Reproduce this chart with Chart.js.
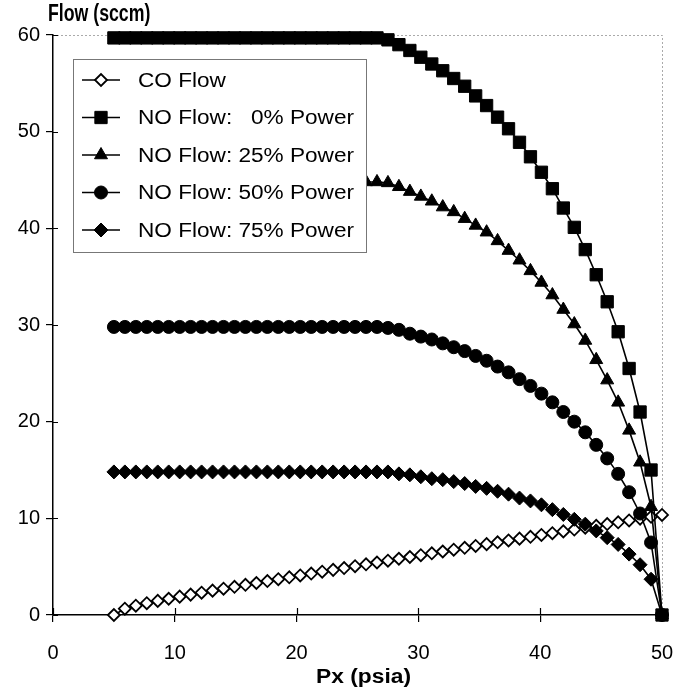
<!DOCTYPE html>
<html>
<head>
<meta charset="utf-8">
<script src="https://cdn.jsdelivr.net/npm/chart.js@4.4.1/dist/chart.umd.min.js"></script>
<style>
  html, body { margin: 0; padding: 0; background: #fff; }
  #chart { display: block; }
</style>
</head>
<body>
<canvas id="chart" width="674" height="688"></canvas>
<script>
// --- DATA ---
const px = [5.0, 5.9, 6.8, 7.7, 8.6, 9.5, 10.4, 11.3, 12.2, 13.1, 14.0, 14.9, 15.8, 16.7, 17.6, 18.5, 19.4, 20.3, 21.2, 22.1, 23.0, 23.9, 24.8, 25.7, 26.6,
            27.5, 28.4, 29.3, 30.2, 31.1, 32.0, 32.9, 33.8, 34.7, 35.6, 36.5, 37.4, 38.3, 39.2, 40.1, 41.0, 41.9, 42.8, 43.7, 44.6, 45.5, 46.4, 47.3, 48.2, 49.1, 50.0];

const coFlow = [0, 0.65, 0.96, 1.22, 1.46, 1.68, 1.90, 2.11, 2.31, 2.52, 2.72, 2.92, 3.12, 3.31, 3.51, 3.70, 3.90, 4.09, 4.29, 4.48, 4.67, 4.86, 5.05, 5.24, 5.43,
                5.62, 5.82, 6.00, 6.19, 6.38, 6.57, 6.76, 6.95, 7.14, 7.33, 7.52, 7.71, 7.90, 8.09, 8.28, 8.46, 8.65, 8.84, 9.03, 9.22, 9.41, 9.59, 9.78, 9.97, 10.16, 10.35];

const no0 = [59.7, 59.7, 59.7, 59.7, 59.7, 59.7, 59.7, 59.7, 59.7, 59.7, 59.7, 59.7, 59.7, 59.7, 59.7, 59.7, 59.7, 59.7, 59.7, 59.7, 59.7, 59.7, 59.7, 59.7, 59.7,
             59.5, 59.0, 58.4, 57.7, 57.0, 56.3, 55.5, 54.7, 53.7, 52.7, 51.5, 50.3, 48.9, 47.4, 45.8, 44.1, 42.1, 40.1, 37.8, 35.2, 32.4, 29.3, 25.5, 21.0, 15.0, 0];

const no25 = [44.8, 44.8, 44.8, 44.8, 44.8, 44.8, 44.8, 44.8, 44.8, 44.8, 44.8, 44.8, 44.8, 44.8, 44.8, 44.8, 44.8, 44.8, 44.8, 44.8, 44.8, 44.8, 44.8, 44.8, 44.8,
              44.7, 44.3, 43.8, 43.3, 42.8, 42.2, 41.7, 41.0, 40.3, 39.6, 38.7, 37.7, 36.7, 35.6, 34.4, 33.1, 31.6, 30.1, 28.4, 26.4, 24.3, 22.0, 19.1, 15.8, 11.2, 0];

const no50 = [29.8, 29.8, 29.8, 29.8, 29.8, 29.8, 29.8, 29.8, 29.8, 29.8, 29.8, 29.8, 29.8, 29.8, 29.8, 29.8, 29.8, 29.8, 29.8, 29.8, 29.8, 29.8, 29.8, 29.8, 29.8,
              29.7, 29.5, 29.1, 28.8, 28.5, 28.1, 27.7, 27.3, 26.8, 26.3, 25.7, 25.1, 24.4, 23.7, 22.9, 22.0, 21.0, 20.0, 18.9, 17.6, 16.2, 14.6, 12.7, 10.5, 7.5, 0];

const no75 = [14.8, 14.8, 14.8, 14.8, 14.8, 14.8, 14.8, 14.8, 14.8, 14.8, 14.8, 14.8, 14.8, 14.8, 14.8, 14.8, 14.8, 14.8, 14.8, 14.8, 14.8, 14.8, 14.8, 14.8, 14.8,
              14.8, 14.6, 14.5, 14.3, 14.1, 14.0, 13.8, 13.6, 13.3, 13.1, 12.8, 12.5, 12.1, 11.8, 11.4, 10.9, 10.4, 9.9, 9.4, 8.7, 8.0, 7.3, 6.3, 5.2, 3.7, 0];

const seriesLabels = ['CO Flow', 'NO Flow:   0% Power', 'NO Flow: 25% Power', 'NO Flow: 50% Power', 'NO Flow: 75% Power'];
const xTicks = [0, 10, 20, 30, 40, 50];
const yTicks = [0, 10, 20, 30, 40, 50, 60];
const xTitle = 'Px (psia)';
const yTitle = 'Flow (sccm)';

const FONT = "'Liberation Sans', Arial, Helvetica, sans-serif";

function pts(values) {
    return px.map((x, i) => ({ x: x, y: values[i] }));
}

function series(label, values, style, radius, fill, order) {
    return {
        label: label,
        data: pts(values),
        borderColor: '#000',
        borderWidth: 1.6,
        pointStyle: style,
        pointRadius: radius,
        pointHoverRadius: radius,
        pointBackgroundColor: fill,
        pointBorderColor: '#000',
        pointBorderWidth: fill === '#fff' ? 1.8 : 1,
        tension: 0,
        clip: false,
        order: order
    };
}

// stretched text helper (the scanned figure has wide-ish type)
function stretchText(ctx, text, x, y, sx, align) {
    ctx.save();
    ctx.translate(x, y);
    ctx.scale(sx, 1);
    ctx.textAlign = align;
    ctx.textBaseline = 'middle';
    ctx.fillText(text, 0, 0);
    ctx.restore();
}

// legend drawn inside the plot, Excel style
const boxLegend = {
    id: 'boxLegend',
    afterDraw(chart) {
        const ctx = chart.ctx;
        const a = chart.chartArea;
        const bx = a.left + 20, by = a.top + 24, bw = 293, bh = 193;
        ctx.save();
        ctx.fillStyle = '#fff';
        ctx.fillRect(bx, by, bw, bh);
        ctx.strokeStyle = '#777';
        ctx.lineWidth = 1;
        ctx.strokeRect(bx + 0.5, by + 0.5, bw, bh);
        chart.data.datasets.forEach((ds, i) => {
            const y = by + 21 + i * 37.5;
            ctx.strokeStyle = '#000';
            ctx.lineWidth = 1.6;
            ctx.beginPath();
            ctx.moveTo(bx + 9, y);
            ctx.lineTo(bx + 47, y);
            ctx.stroke();
            ctx.fillStyle = ds.pointBackgroundColor;
            ctx.strokeStyle = '#000';
            ctx.lineWidth = ds.pointBorderWidth;
            Chart.helpers.drawPoint(ctx, { pointStyle: ds.pointStyle, radius: ds.pointRadius, borderWidth: ds.pointBorderWidth, rotation: 0 }, bx + 28, y);
            ctx.fillStyle = '#000';
            ctx.font = '20px ' + FONT;
            stretchText(ctx, ds.label, bx + 65, y + 1, 1.13, 'left');
        });
        ctx.restore();
    }
};

// faint top/right frame, inner tick marks and the axis titles
const frame = {
    id: 'frame',
    beforeDatasetsDraw(chart) {
        const ctx = chart.ctx;
        const a = chart.chartArea;
        const sx = chart.scales.x, sy = chart.scales.y;
        ctx.save();
        ctx.strokeStyle = '#aaa';
        ctx.lineWidth = 1;
        ctx.setLineDash([2, 2]);
        ctx.beginPath();
        ctx.moveTo(a.left, a.top + 0.5);
        ctx.lineTo(a.right + 0.5, a.top + 0.5);
        ctx.lineTo(a.right + 0.5, a.bottom);
        ctx.stroke();
        ctx.setLineDash([]);
        ctx.strokeStyle = '#000';
        ctx.lineWidth = 1.2;
        ctx.beginPath();
        xTicks.forEach(v => {
            const x = Math.round(sx.getPixelForValue(v)) + 0.5;
            ctx.moveTo(x, a.bottom);
            ctx.lineTo(x, a.bottom - 7);
        });
        yTicks.forEach(v => {
            const y = Math.round(sy.getPixelForValue(v)) + 0.5;
            ctx.moveTo(a.left, y);
            ctx.lineTo(a.left + 5, y);
        });
        ctx.stroke();
        ctx.restore();
    },
    afterDraw(chart) {
        const ctx = chart.ctx;
        const a = chart.chartArea;
        ctx.save();
        ctx.fillStyle = '#000';
        ctx.font = 'bold 23px ' + FONT;
        stretchText(ctx, yTitle, 48, 15, 0.77, 'left');
        ctx.font = 'bold 20px ' + FONT;
        stretchText(ctx, xTitle, (a.left + a.right) / 2 + 6, 677, 1.14, 'center');
        ctx.restore();
    }
};

new Chart(document.getElementById('chart'), {
    type: 'line',
    data: {
        datasets: [
            series(seriesLabels[0], coFlow, 'rectRot', 6, '#fff', 5),
            series(seriesLabels[1], no0, 'rect', 8.7, '#000', 4),
            series(seriesLabels[2], no25, 'triangle', 7.5, '#000', 3),
            series(seriesLabels[3], no50, 'circle', 6.5, '#000', 2),
            series(seriesLabels[4], no75, 'rectRot', 7, '#000', 1)
        ]
    },
    options: {
        responsive: false,
        animation: false,
        devicePixelRatio: 1,
        layout: { padding: { top: 35, right: 12, left: 0, bottom: 0 } },
        plugins: {
            legend: { display: false },
            tooltip: { enabled: false }
        },
        scales: {
            x: {
                type: 'linear',
                min: 0,
                max: 50,
                afterBuildTicks: s => { s.ticks = xTicks.map(v => ({ value: v })); },
                afterFit: s => { s.height = 73; s.paddingLeft = 0; s.paddingRight = 0; },
                ticks: { color: '#000', font: { family: FONT, size: 20 }, padding: 19, maxRotation: 0 },
                grid: { drawOnChartArea: false, color: '#000', tickLength: 7, lineWidth: 1.2 },
                border: { color: '#000', width: 1.5 }
            },
            y: {
                min: 0,
                max: 60,
                afterBuildTicks: s => { s.ticks = yTicks.map(v => ({ value: v })); },
                afterFit: s => { s.width = 53; s.paddingTop = 0; s.paddingBottom = 0; },
                ticks: { color: '#000', font: { family: FONT, size: 20 }, padding: 6 },
                grid: { drawOnChartArea: false, color: '#000', tickLength: 7, lineWidth: 1.2 },
                border: { color: '#000', width: 1.5 }
            }
        }
    },
    plugins: [frame, boxLegend]
});
</script>
</body>
</html>
